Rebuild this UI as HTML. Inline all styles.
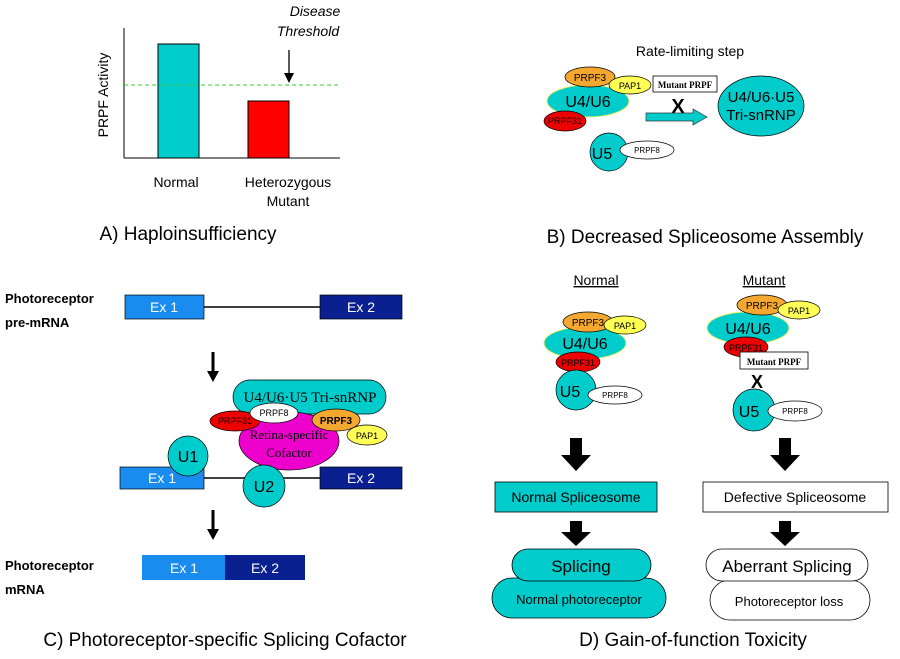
<!DOCTYPE html>
<html><head><style>body{margin:0;background:#fff}svg{display:block;font-family:"Liberation Sans",sans-serif}</style></head><body>
<svg width="900" height="659" viewBox="0 0 900 659" xmlns="http://www.w3.org/2000/svg">
<defs><marker id="ah" markerUnits="userSpaceOnUse" markerWidth="10" markerHeight="10" refX="5" refY="5" orient="auto"><path d="M0,0 L10,5 L0,10Z" fill="#000"/></marker></defs>
<!-- Panel A -->
<line x1="124" y1="28" x2="124" y2="158" stroke="#000"/>
<line x1="124" y1="158" x2="340" y2="158" stroke="#000"/>
<rect x="158" y="44" width="41" height="114" fill="#00cccc" stroke="#000"/>
<rect x="248" y="101" width="41" height="57" fill="#ff0000" stroke="#000"/>
<line x1="124" y1="85" x2="340" y2="85" stroke="#33cc33" stroke-dasharray="4,3"/>
<line x1="289" y1="50" x2="289" y2="78" stroke="#000" stroke-width="1.3" marker-end="url(#ah)"/>
<text x="315" y="16" font-size="14" font-style="italic" text-anchor="middle">Disease</text>
<text x="308" y="36" font-size="14" font-style="italic" text-anchor="middle">Threshold</text>
<text transform="translate(108,95) rotate(-90)" font-size="14" text-anchor="middle">PRPF  Activity</text>
<text x="176" y="187" font-size="14" text-anchor="middle">Normal</text>
<text x="288" y="187" font-size="14" text-anchor="middle">Heterozygous</text>
<text x="288" y="206" font-size="14" text-anchor="middle">Mutant</text>
<text x="188" y="240" font-size="19" text-anchor="middle">A) Haploinsufficiency</text>
<!-- Panel B -->
<text x="690" y="56" font-size="14" text-anchor="middle">Rate-limiting step</text>
<ellipse cx="588" cy="101" rx="41" ry="16" fill="#00cccc" stroke="#eeee66"/>
<ellipse cx="590" cy="77" rx="25" ry="10" fill="#f5a830" stroke="#000" stroke-width=".7"/>
<ellipse cx="630" cy="85" rx="21" ry="9" fill="#ffff55" stroke="#000" stroke-width=".7"/>
<ellipse cx="565" cy="121" rx="21" ry="10" fill="#ee0000" stroke="#000" stroke-width=".7"/>
<text x="590" y="81" font-size="10" text-anchor="middle">PRPF3</text>
<text x="630" y="89" font-size="9" text-anchor="middle">PAP1</text>
<text x="588" y="107" font-size="16" text-anchor="middle">U4/U6</text>
<text x="565" y="124" font-size="9" text-anchor="middle">PRPF31</text>
<circle cx="609" cy="152" r="19" fill="#00cccc" stroke="#000" stroke-width=".7"/>
<ellipse cx="647" cy="150" rx="27" ry="9" fill="#fff" stroke="#000" stroke-width=".7"/>
<text x="602" y="159" font-size="16" text-anchor="middle">U5</text>
<text x="647" y="153" font-size="8" text-anchor="middle">PRPF8</text>
<rect x="653" y="76" width="64" height="16" fill="#fff" stroke="#000" stroke-width=".8"/>
<text x="685" y="88" font-size="9" font-family="Liberation Serif" font-weight="bold" text-anchor="middle">Mutant PRPF</text>
<text x="678" y="113" font-size="20" font-weight="bold" text-anchor="middle">X</text>
<path d="M646,113 L693,113 L693,109 L707,117 L693,125 L693,121 L646,121Z" fill="#00cccc" stroke="#333" stroke-width=".7"/>
<ellipse cx="761" cy="106" rx="43" ry="30" fill="#00cccc" stroke="#000" stroke-width=".7"/>
<text x="761" y="102" font-size="15" text-anchor="middle">U4/U6·U5</text>
<text x="761" y="120" font-size="15" text-anchor="middle">Tri-snRNP</text>
<text x="705" y="243" font-size="19" text-anchor="middle">B) Decreased Spliceosome Assembly</text>
<!-- Panel C -->
<text x="5" y="303" font-size="13" font-weight="bold">Photoreceptor</text>
<text x="5" y="327" font-size="13" font-weight="bold">pre-mRNA</text>
<line x1="204" y1="307" x2="320" y2="307" stroke="#000" stroke-width="1.5"/>
<rect x="125" y="295" width="79" height="24" fill="#1a8cf0" stroke="#000" stroke-width=".7"/>
<rect x="320" y="295" width="82" height="24" fill="#0a2090" stroke="#000" stroke-width=".7"/>
<text x="164" y="312" font-size="14" fill="#fff" text-anchor="middle">Ex 1</text>
<text x="361" y="312" font-size="14" fill="#fff" text-anchor="middle">Ex 2</text>
<path d="M211.5,352 L214.5,352 L214.5,371 L219,371 L213,382 L207,371 L211.5,371Z" fill="#000"/>
<rect x="233" y="380" width="153" height="34" rx="17" fill="#00cccc" stroke="#000" stroke-width=".7"/>
<text x="310" y="402" font-size="15" font-family="Liberation Serif" text-anchor="middle">U4/U6·U5 Tri-snRNP</text>
<line x1="204" y1="478" x2="320" y2="478" stroke="#000" stroke-width="1.5"/>
<rect x="120" y="467" width="84" height="22" fill="#1a8cf0" stroke="#000" stroke-width=".7"/>
<rect x="320" y="467" width="82" height="22" fill="#0a2090" stroke="#000" stroke-width=".7"/>
<text x="162" y="483" font-size="14" fill="#fff" text-anchor="middle">Ex 1</text>
<text x="361" y="483" font-size="14" fill="#fff" text-anchor="middle">Ex 2</text>
<ellipse cx="289" cy="441" rx="50" ry="29" fill="#ee00cc" stroke="#000" stroke-width=".7"/>
<text x="289" y="439" font-size="13" font-family="Liberation Serif" text-anchor="middle">Retina-specific</text>
<text x="289" y="457" font-size="13" font-family="Liberation Serif" text-anchor="middle">Cofactor</text>
<ellipse cx="235" cy="421" rx="25" ry="10" fill="#ee0000" stroke="#000" stroke-width=".7"/>
<ellipse cx="274" cy="413" rx="24" ry="10" fill="#fff" stroke="#000" stroke-width=".7"/>
<ellipse cx="336" cy="420" rx="24" ry="11" fill="#f5a830" stroke="#000" stroke-width=".7"/>
<ellipse cx="367" cy="435" rx="20" ry="10" fill="#ffff55" stroke="#000" stroke-width=".7"/>
<text x="235" y="424" font-size="9" text-anchor="middle">PRPF31</text>
<text x="274" y="416" font-size="9" text-anchor="middle">PRPF8</text>
<text x="336" y="424" font-size="10" font-weight="bold" text-anchor="middle">PRPF3</text>
<text x="367" y="439" font-size="9" text-anchor="middle">PAP1</text>
<circle cx="188" cy="456" r="20" fill="#00cccc" stroke="#000" stroke-width=".7"/>
<text x="188" y="462" font-size="16" text-anchor="middle">U1</text>
<circle cx="264" cy="486" r="21" fill="#00cccc" stroke="#000" stroke-width=".7"/>
<text x="264" y="492" font-size="16" text-anchor="middle">U2</text>
<path d="M211.5,510 L214.5,510 L214.5,529 L219,529 L213,540 L207,529 L211.5,529Z" fill="#000"/>
<rect x="142" y="555" width="83" height="25" fill="#1a8cf0"/>
<rect x="225" y="555" width="80" height="25" fill="#0a2090"/>
<text x="184" y="573" font-size="14" fill="#fff" text-anchor="middle">Ex 1</text>
<text x="265" y="573" font-size="14" fill="#fff" text-anchor="middle">Ex 2</text>
<text x="5" y="570" font-size="13" font-weight="bold">Photoreceptor</text>
<text x="5" y="594" font-size="13" font-weight="bold">mRNA</text>
<text x="225" y="646" font-size="19" text-anchor="middle">C) Photoreceptor-specific Splicing Cofactor</text>
<!-- Panel D -->
<text x="596" y="285" font-size="14" text-anchor="middle" text-decoration="underline">Normal</text>
<text x="764" y="285" font-size="14" text-anchor="middle" text-decoration="underline">Mutant</text>
<ellipse cx="585" cy="343" rx="41" ry="16" fill="#00cccc" stroke="#eeee66"/>
<ellipse cx="588" cy="322" rx="25" ry="10" fill="#f5a830" stroke="#000" stroke-width=".7"/>
<ellipse cx="625" cy="325" rx="21" ry="9" fill="#ffff55" stroke="#000" stroke-width=".7"/>
<ellipse cx="578" cy="362" rx="22" ry="10" fill="#ee0000" stroke="#000" stroke-width=".7"/>
<text x="588" y="326" font-size="10" text-anchor="middle">PRPF3</text>
<text x="625" y="329" font-size="9" text-anchor="middle">PAP1</text>
<text x="585" y="349" font-size="16" text-anchor="middle">U4/U6</text>
<text x="578" y="366" font-size="9" text-anchor="middle">PRPF31</text>
<circle cx="576" cy="390" r="20" fill="#00cccc" stroke="#000" stroke-width=".7"/>
<ellipse cx="615" cy="395" rx="27" ry="9" fill="#fff" stroke="#000" stroke-width=".7"/>
<text x="570" y="397" font-size="16" text-anchor="middle">U5</text>
<text x="615" y="398" font-size="8" text-anchor="middle">PRPF8</text>
<ellipse cx="748" cy="328" rx="41" ry="16" fill="#00cccc" stroke="#eeee66"/>
<ellipse cx="762" cy="305" rx="25" ry="10" fill="#f5a830" stroke="#000" stroke-width=".7"/>
<ellipse cx="799" cy="310" rx="21" ry="9" fill="#ffff55" stroke="#000" stroke-width=".7"/>
<ellipse cx="746" cy="347" rx="22" ry="10" fill="#ee0000" stroke="#000" stroke-width=".7"/>
<text x="762" y="309" font-size="10" text-anchor="middle">PRPF3</text>
<text x="799" y="314" font-size="9" text-anchor="middle">PAP1</text>
<text x="748" y="334" font-size="16" text-anchor="middle">U4/U6</text>
<text x="746" y="351" font-size="9" text-anchor="middle">PRPF31</text>
<rect x="740" y="352" width="68" height="17" fill="#fff" stroke="#000" stroke-width=".8"/>
<text x="774" y="365" font-size="9" font-family="Liberation Serif" font-weight="bold" text-anchor="middle">Mutant PRPF</text>
<text x="757" y="388" font-size="18" font-weight="bold" text-anchor="middle">X</text>
<circle cx="754" cy="410" r="21" fill="#00cccc" stroke="#000" stroke-width=".7"/>
<ellipse cx="795" cy="411" rx="27" ry="10" fill="#fff" stroke="#000" stroke-width=".7"/>
<text x="749" y="417" font-size="16" text-anchor="middle">U5</text>
<text x="795" y="414" font-size="8" text-anchor="middle">PRPF8</text>
<path d="M570,438 L582,438 L582,455 L591,455 L576,471 L561,455 L570,455Z" fill="#000"/>
<path d="M779,438 L791,438 L791,455 L800,455 L785,471 L770,455 L779,455Z" fill="#000"/>
<rect x="495" y="482" width="162" height="30" fill="#00cccc" stroke="#000" stroke-width=".8"/>
<text x="576" y="502" font-size="14" text-anchor="middle">Normal Spliceosome</text>
<rect x="703" y="482" width="185" height="30" fill="#fff" stroke="#000" stroke-width=".8"/>
<text x="795" y="502" font-size="14" text-anchor="middle">Defective Spliceosome</text>
<path d="M570,521 L582,521 L582,532 L591,532 L576,546 L561,532 L570,532Z" fill="#000"/>
<path d="M779,521 L791,521 L791,532 L800,532 L785,546 L770,532 L779,532Z" fill="#000"/>
<rect x="492" y="578" width="174" height="40" rx="20" fill="#00cccc" stroke="#000" stroke-width=".8"/>
<text x="579" y="604" font-size="13" text-anchor="middle">Normal photoreceptor</text>
<rect x="512" y="549" width="139" height="32" rx="16" fill="#00cccc" stroke="#000" stroke-width=".8"/>
<text x="581" y="572" font-size="17" text-anchor="middle">Splicing</text>
<rect x="710" y="580" width="160" height="40" rx="20" fill="#fff" stroke="#000" stroke-width=".8"/>
<text x="789" y="606" font-size="13" text-anchor="middle">Photoreceptor loss</text>
<rect x="706" y="549" width="162" height="32" rx="16" fill="#fff" stroke="#000" stroke-width=".8"/>
<text x="787" y="572" font-size="17" text-anchor="middle">Aberrant Splicing</text>
<text x="693" y="646" font-size="19" text-anchor="middle">D) Gain-of-function Toxicity</text>
</svg>
</body></html>
